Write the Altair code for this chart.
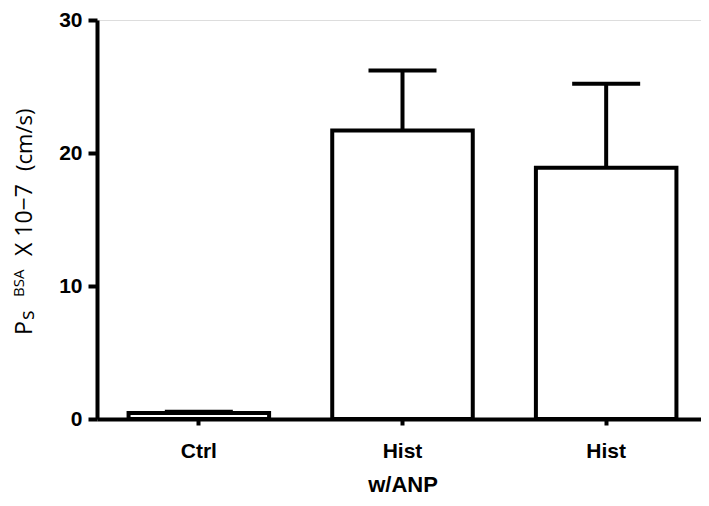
import altair as alt
import pandas as pd

cat_ids = ["ctrl", "hist_anp", "hist"]
cat_labels = ["Ctrl", "Hist", "Hist"]
means = [0.45, 21.7, 18.9]
uppers = [0.55, 26.2, 25.2]

# y-axis title pieces: text, font size, start (page y), baseline shift
title_parts = ["P", "s", "BSA", "X 10\u22127", "(cm/s)"]
title_sizes = [23, 20, 15, 23, 22]
title_start = [335, 320, 297, 256, 171]
title_shift = [0, 2, -8, 0, 0]

df = pd.DataFrame({"cat": cat_ids, "label": cat_labels, "mean": means, "upper": uppers})

PLOT_TOP = 20   # page y of the plot area's top
PLOT_LEFT = 97  # page x of the plot area's left

label_expr = "{" + ", ".join(f"'{i}': '{l}'" for i, l in zip(cat_ids, cat_labels)) + "}[datum.value]"

x = alt.X(
    "cat:N",
    sort=cat_ids,
    scale=alt.Scale(paddingInner=0.31, paddingOuter=0.155, range=[0, 611]),
    axis=alt.Axis(
        title="w/ANP",
        labelExpr=label_expr,
        labelAngle=0,
        labelFont="Liberation Sans",
        labelFontWeight="bold",
        labelFontSize=21,
        labelColor="black",
        labelPadding=15,
        tickSize=6,
        tickWidth=4,
        tickColor="black",
        domainWidth=4,
        domainColor="black",
        titleFont="Liberation Sans",
        titleFontWeight="bold",
        titleFontSize=22,
        titleColor="black",
        titlePadding=13,
    ),
)

y_scale = alt.Scale(domain=[0, 30], nice=False)
y_axis = alt.Axis(
    title=None,
    values=[0, 10, 20, 30],
    grid=False,
    labelFont="Liberation Sans",
    labelFontWeight="bold",
    labelFontSize=21,
    labelColor="black",
    labelPadding=6,
    tickSize=9,
    tickWidth=4,
    tickColor="black",
    domainWidth=4,
    domainColor="black",
)

base = alt.Chart(df)

rules = base.mark_rule(color="black", strokeWidth=4).encode(
    x=x,
    y=alt.Y("mean:Q", scale=y_scale, axis=y_axis),
    y2="upper:Q",
)
caps = base.mark_tick(color="black", thickness=4, size=68, opacity=1).encode(
    x=x,
    y=alt.Y("upper:Q", scale=y_scale, axis=y_axis),
)
bars = base.mark_bar(fill="white", stroke="black", strokeWidth=4).encode(
    x=x,
    y=alt.Y("mean:Q", scale=y_scale, axis=y_axis),
)

title_layers = []
for t, s, st, sh in zip(title_parts, title_sizes, title_start, title_shift):
    title_layers.append(
        alt.Chart(pd.DataFrame({"t": [t]}))
        .mark_text(
            text=t,
            angle=270,
            align="left",
            baseline="alphabetic",
            font="Open Sans",
            fontSize=s,
            color="black",
        )
        .encode(x=alt.value(32 + sh - PLOT_LEFT), y=alt.value(st - PLOT_TOP))
    )

chart = (
    alt.layer(rules, caps, bars, *title_layers)
    .properties(
        width=604,
        height=399,
        autosize=alt.AutoSizeParams(type="none"),
        padding={"left": 89, "top": 12, "right": 0, "bottom": 79},
    )
    .configure_view(stroke=None)
    .configure(background="white")
)

chart.save("out.html", embed_options={"renderer": "svg", "actions": False})
